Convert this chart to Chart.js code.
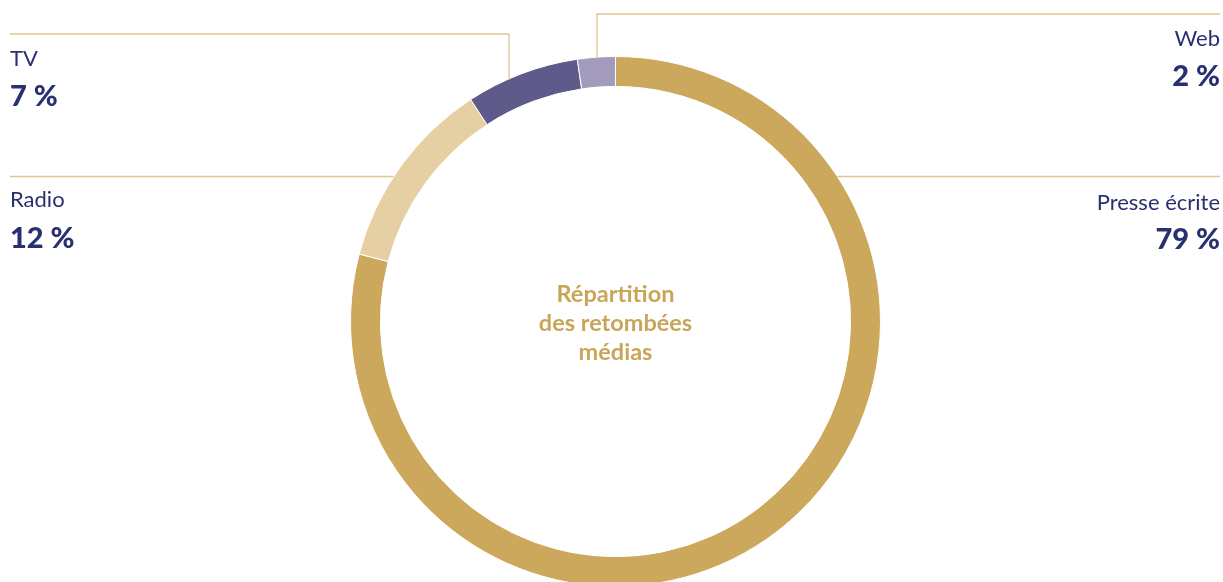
<!DOCTYPE html>
<html lang="fr">
<head>
<meta charset="utf-8">
<title>Répartition des retombées médias</title>
<script src="https://cdn.jsdelivr.net/npm/chart.js@4.4.1/dist/chart.umd.min.js"></script>
<style>
  html, body { margin: 0; padding: 0; background: #ffffff; overflow: hidden; }
  #wrap { position: relative; width: 1223px; height: 600px; }
  canvas { display: block; }
</style>
</head>
<body>
<div id="wrap"><canvas id="c" width="1223" height="600"></canvas></div>
<script>
// ---- data ----
const categories = ["Presse écrite", "Radio", "TV", "Web"];
const shares = [79.1, 11.7, 6.9, 2.3];
const percentLabels = ["79 %", "12 %", "7 %", "2 %"];
const centerTitle = ["Répartition", "des retombées", "médias"];
const sliceColors = ["#cca85c", "#e6cfa3", "#5e5b8b", "#a29bbb"];

// ---- styles ----
const navy = "#283070";
const gold = "#c9a55a";
const leaderColor = "#e0c68f";
const labelFont = "22px Lato, 'Noto Sans', sans-serif";
const pctFont = "900 29px Lato, 'Noto Sans', sans-serif";
const centerFont = "bold 23.5px Lato, 'Noto Sans', sans-serif";

// label layout: side, anchor x, name baseline, percent baseline,
// leader line: y of horizontal, x of vertical (or null)
const labelLayout = {
  "TV":            { side: "left",  x: 10,   nameY: 66,  pctY: 106, lineY: 34,  vx: 509 },
  "Radio":         { side: "left",  x: 10,   nameY: 207, pctY: 248, lineY: 176.5, vx: null },
  "Web":           { side: "right", x: 1220, nameY: 46,  pctY: 86,  lineY: 14,  vx: 597 },
  "Presse écrite": { side: "right", x: 1220, nameY: 210, pctY: 249, lineY: 176.5, vx: null }
};

const labelsPlugin = {
  id: "labelsPlugin",
  afterDraw(chart) {
    const ctx = chart.ctx;
    const meta = chart.getDatasetMeta(0);
    const arc = meta.data[0];
    const cx = arc.x, cy = arc.y, R = arc.outerRadius;
    ctx.save();
    ctx.strokeStyle = leaderColor;
    ctx.lineWidth = 1.3;
    categories.forEach((cat, i) => {
      const L = labelLayout[cat];
      const edgeX = L.side === "left" ? 10 : 1220;
      ctx.beginPath();
      if (L.vx !== null) {
        const dx = L.vx - cx;
        const yRing = cy - Math.sqrt(R * R - dx * dx);
        ctx.moveTo(edgeX, L.lineY);
        ctx.lineTo(L.vx, L.lineY);
        ctx.lineTo(L.vx, yRing + 1);
      } else {
        const dy = L.lineY - cy;
        const xOff = Math.sqrt(R * R - dy * dy);
        const xRing = L.side === "left" ? cx - xOff : cx + xOff;
        ctx.moveTo(edgeX, L.lineY);
        ctx.lineTo(xRing, L.lineY);
      }
      ctx.stroke();

      ctx.textAlign = L.side === "left" ? "left" : "right";
      ctx.textBaseline = "alphabetic";
      ctx.fillStyle = navy;
      ctx.font = labelFont;
      ctx.fillText(cat, L.x, L.nameY);
      ctx.font = pctFont;
      ctx.fillText(percentLabels[i], L.x, L.pctY);
    });

    // center title
    ctx.fillStyle = gold;
    ctx.font = centerFont;
    ctx.textAlign = "center";
    const baselines = [302, 331, 360];
    centerTitle.forEach((t, k) => ctx.fillText(t, cx, baselines[k]));
    ctx.restore();
  }
};

new Chart(document.getElementById("c"), {
  type: "doughnut",
  data: {
    labels: categories,
    datasets: [{
      data: shares,
      backgroundColor: sliceColors,
      borderColor: "#ffffff",
      borderWidth: 1,
      hoverOffset: 0,
      offset: 0
    }]
  },
  options: {
    responsive: false,
    animation: false,
    events: [],
    cutout: "88.7%",
    rotation: 0,
    circumference: 360,
    layout: { padding: { top: 56, bottom: 13, left: 350, right: 342 } },
    plugins: {
      legend: { display: false },
      tooltip: { enabled: false },
      title: { display: false }
    }
  },
  plugins: [labelsPlugin]
});
</script>
</body>
</html>
